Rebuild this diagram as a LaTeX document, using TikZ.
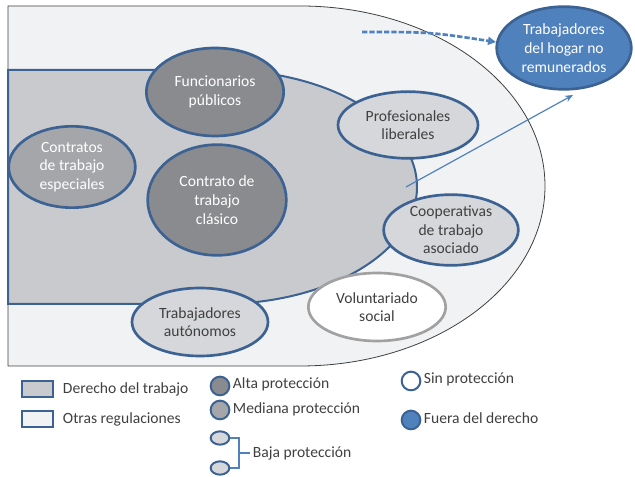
\documentclass[tikz,border=0pt]{standalone}
\usepackage{fontspec}
\setmainfont{Carlito}
\usetikzlibrary{shapes.geometric,arrows.meta}

\definecolor{otrasfill}{RGB}{241,242,244}
\definecolor{derechofill}{RGB}{201,202,205}
\definecolor{altagray}{RGB}{138,139,142}
\definecolor{medgray}{RGB}{165,166,169}
\definecolor{bajagray}{RGB}{214,215,218}
\definecolor{bordeblue}{RGB}{59,98,146}
\definecolor{fuerablue}{RGB}{79,129,189}
\definecolor{textgray}{RGB}{64,64,64}

\begin{document}
\begin{tikzpicture}[x=0.75pt,y=0.75pt,font=\fontsize{11.7}{14}\selectfont,
  oval/.style={ellipse,draw=bordeblue,line width=2pt,inner sep=0pt,
    align=center,text=textgray},
  protalta/.style={oval,fill=altagray,text=white},
  protmed/.style={oval,fill=medgray,text=white},
  protbaja/.style={oval,fill=bajagray},
  protsin/.style={oval,fill=white,draw=black!37},
  protfuera/.style={oval,fill=fuerablue,text=white},
  legmark/.style={line width=1.5pt,inner sep=0pt},
  legtext/.style={anchor=west,inner sep=2pt,text=textgray}]
  \useasboundingbox (0,0) rectangle (635,477);

  % otras regulaciones / derecho del trabajo
  \filldraw[fill=otrasfill,draw=black!75,line width=0.6pt]
    (8,111) -- (8,471) -- (300,471)
    arc[start angle=90,end angle=-90,x radius=245,y radius=180] -- cycle;
  \filldraw[fill=derechofill,draw=bordeblue,line width=1.5pt]
    (8,173) -- (8,407) -- (220,407)
    arc[start angle=90,end angle=-90,x radius=197,y radius=117] -- cycle;

  \node[protalta,minimum width=103pt,minimum height=66pt] (func) at (215,385)
    {Funcionarios\\públicos};
  \node[protalta,minimum width=104pt,minimum height=83pt] (clasico) at (217,277)
    {Contrato de\\trabajo\\clásico};
  \node[protmed,minimum width=95pt,minimum height=61pt] (especiales) at (72,310)
    {Contratos\\de trabajo\\especiales};
  \node[protbaja,minimum width=105pt,minimum height=50pt] (liberales) at (408,352)
    {Profesionales\\liberales};
  \node[protbaja,minimum width=101pt,minimum height=53pt] (coop) at (451,247)
    {Cooperativas\\de trabajo\\asociado};
  \node[protbaja,minimum width=102pt,minimum height=51pt] (autonomos) at (200,155)
    {Trabajadores\\autónomos};
  \node[protsin,minimum width=103pt,minimum height=51pt] (volunt) at (377,170)
    {Voluntariado\\social};
  \node[protfuera,minimum width=101pt,minimum height=62pt] (hogar) at (564,429)
    {Trabajadores\\del hogar no\\remunerados};

  \coordinate (dsrc) at (362,445);
  \coordinate (coopsrc) at (406,290);
  \coordinate (hogartip) at (573,382);
  \draw[fuerablue,line width=2pt,dash pattern=on 4pt off 1.5pt,
    -{Triangle[length=6pt,width=6pt]}]
    (dsrc) .. controls (430,445) .. (hogar.175);
  \draw[fuerablue,line width=0.9pt,-{Stealth[length=6pt,width=5pt]}]
    (coopsrc) -- (hogartip);

  % leyenda
  \node[legmark,draw=bordeblue,fill=derechofill,minimum width=23pt,
    minimum height=12pt] (legdt) at (37.5,88) {};
  \node[legtext] (legdttxt) at (60,88) {Derecho del trabajo};
  \node[legmark,draw=bordeblue,fill=otrasfill,minimum width=23pt,
    minimum height=12pt] (legor) at (37.5,58) {};
  \node[legtext] (legortxt) at (60,58) {Otras regulaciones};

  \node[legmark,circle,draw=bordeblue,fill=altagray,minimum size=14pt] (legalta) at (220,91) {};
  \node[legtext] (legaltatxt) at (230,93) {Alta protección};
  \node[legmark,circle,draw=bordeblue,fill=medgray,minimum size=14pt] (legmed) at (220,67) {};
  \node[legtext] (legmedtxt) at (230,68) {Mediana protección};
  \node[legmark,ellipse,draw=bordeblue,fill=bajagray,minimum width=14pt,
    minimum height=10pt] (legbajaa) at (220,39) {};
  \node[legmark,ellipse,draw=bordeblue,fill=bajagray,minimum width=14pt,
    minimum height=10pt] (legbajab) at (220,9) {};
  \node[legtext] (legbajatxt) at (250,24) {Baja protección};
  \coordinate (bracemid) at (239,24);
  \draw[fuerablue,line width=0.8pt] (legbajaa.east) -- (239,39) -- (239,9)
    -- (legbajab.east);
  \draw[fuerablue,line width=0.8pt] (bracemid) -- (legbajatxt.west);

  \node[legmark,circle,draw=bordeblue,fill=white,minimum size=14pt] (legsin) at (411,96) {};
  \node[legtext] (legsintxt) at (421,98) {Sin protección};
  \node[legmark,circle,draw=bordeblue,fill=fuerablue,minimum size=14pt] (legfuera) at (411,57) {};
  \node[legtext] (legfueratxt) at (421,59) {Fuera del derecho};
\end{tikzpicture}
\end{document}
